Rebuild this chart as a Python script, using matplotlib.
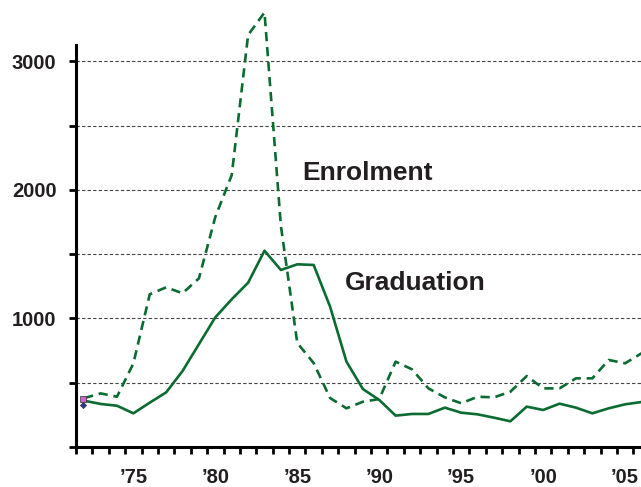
import matplotlib
matplotlib.use("Agg")
import matplotlib.pyplot as plt

plt.rcParams['font.family'] = ['Liberation Sans', 'DejaVu Sans']

years = list(range(1972, 2007))

enrolment = [380, 417, 391, 650, 1188, 1242, 1196, 1312, 1790, 2115, 3205, 3380, 1720, 809,
             653, 381, 301, 352, 373, 664, 604, 456, 386, 340, 391, 386, 430, 552, 456, 456,
             534, 534, 677, 651, 729]

graduation = [360, 335, 321, 262, 345, 425, 591, 800, 1009, 1149, 1278, 1527, 1377, 1421,
              1416, 1092, 664, 451, 366, 244, 257, 257, 306, 267, 254, 228, 200, 314, 288, 337,
              306, 262, 301, 332, 350]

# stray series markers left at the first point
marker_year = [1972]
square_val = [375]
diamond_val = [325]

green = '#0B6B31'
ink = '#231F20'

fig = plt.figure(figsize=(6.41, 4.87), dpi=100)
ax = fig.add_axes([76 / 641, 40 / 487, 573.7 / 641, 402 / 487])

for v in range(500, 3001, 500):
    ax.axhline(v, color='#444444', lw=0.8, ls=(0, (3, 2)), zorder=1)

ax.plot(years, graduation, color=green, lw=1.9, clip_on=False, zorder=3)
ax.plot(years, enrolment, color=green, lw=1.9, ls=(0, (3.5, 2.2)), clip_on=False, zorder=3)
ax.scatter([y - 0.05 for y in marker_year], square_val, marker='s', s=14, color='#CC66CC',
           edgecolor='#333333', linewidth=0.5, zorder=4, clip_on=False)
ax.scatter([y - 0.05 for y in marker_year], diamond_val, marker='D', s=10, color='#333399',
           edgecolor='#333333', linewidth=0.5, zorder=4, clip_on=False)

ax.set_xlim(1971.5, 2006.5)
ax.set_ylim(0, 3127)

ax.set_yticks(range(0, 3001, 500))
ax.set_yticklabels(['' if v % 1000 else ('' if v == 0 else str(v)) for v in range(0, 3001, 500)])
ax.tick_params(axis='y', length=5, width=2, color='black', pad=9,
               labelsize=14.5, labelcolor=ink)

ax.set_xticks([y - 0.5 for y in years] + [2006.5])
ax.set_xticklabels([])
ax.set_xticks([1975, 1980, 1985, 1990, 1995, 2000, 2005], minor=True)
ax.set_xticklabels(["’75", "’80", "’85", "’90", "’95", "’00", "’05"], minor=True)
ax.tick_params(axis='x', which='major', length=5, width=2, color='black')
ax.tick_params(axis='x', which='minor', length=0, pad=15, labelsize=14.5, labelcolor=ink)
for lab in ax.get_yticklabels() + ax.get_xticklabels(minor=True):
    lab.set_fontweight('bold')

for s in ['top', 'right']:
    ax.spines[s].set_visible(False)
ax.spines['left'].set_linewidth(2.2)
ax.spines['bottom'].set_linewidth(2.2)

ax.text(1989.3, 2132, 'Enrolment', fontsize=19, fontweight='bold', color=ink, ha='center', va='center')
ax.text(1992.2, 1276, 'Graduation', fontsize=19, fontweight='bold', color=ink, ha='center', va='center')

fig.savefig('out.png', dpi=100)
